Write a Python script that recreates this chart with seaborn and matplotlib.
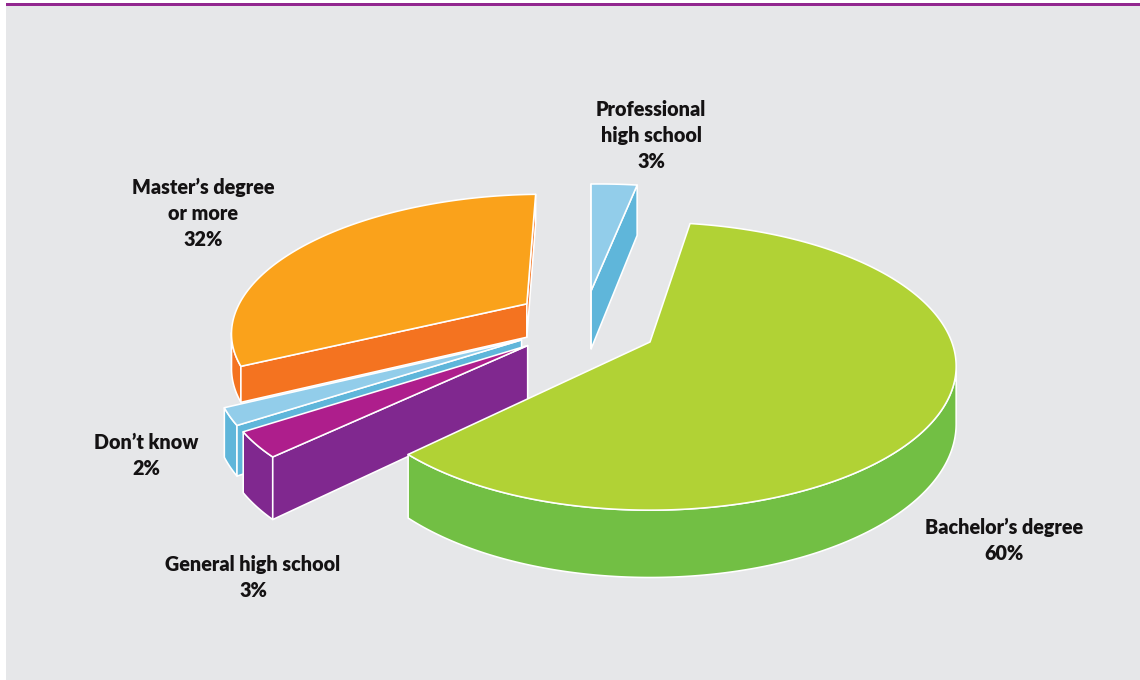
import numpy as np
import matplotlib
matplotlib.use("Agg")
import matplotlib.pyplot as plt
from matplotlib.patches import Polygon, Rectangle
from matplotlib.path import Path
import seaborn as sns

# Survey shares, clockwise from the top of the pie
categories = ["Bachelor\u2019s degree", "General high school", "Don\u2019t know",
              "Master\u2019s degree\nor more", "Professional\nhigh school"]
shares = [60, 3, 2, 32, 3]

# Slice styling and placement
top_colors = ["#B1D235", "#AE1E8C", "#92CDEA", "#FAA21B", "#92CDEA"]
side_colors = ["#72BF44", "#80288F", "#5FB6DA", "#F47320", "#5FB6DA"]
offsets = [(0.0, 0.0), (-0.402, 0.025), (-0.425, -0.015), (-0.426, -0.285), (-0.207, -0.39)]
radii = [0.996, 0.98, 0.985, 0.995, 1.0]
depths = [56, 55, 46, 35, 62]
draw_order = [3, 4, 2, 1, 0]
label_xy = [(1004, 527), (253, 564), (146, 442), (203, 187), (651, 109)]

START_ANGLE = 8.9
CX, CY = 650, 342
SCALE_X, SCALE_Y, PERSP = 303.0, 140.4, 0.169
EDGE = "white"
INK = "#141213"

sns.set_theme(style="white")
plt.rcParams["font.family"] = ["Lato", "DejaVu Sans"]


def project(x, y, drop=0.0):
    """Perspective map from the pie plane to canvas pixels; y grows toward the viewer."""
    w = 1.0 / (1.0 - PERSP * y)
    return CX + SCALE_X * x * w, CY + (SCALE_Y * y + drop) * w


def rim_points(a0, a1, r, off):
    angles = np.radians(np.linspace(a0, a1, max(int(abs(a1 - a0) * 2), 2) + 1))
    return off[0] + r * np.sin(angles), off[1] - r * np.cos(angles)


fig = plt.figure(figsize=(11.4, 6.8), dpi=100)
ax = fig.add_axes([0, 0, 1, 1])
ax.set_xlim(0, 1140)
ax.set_ylim(680, 0)
ax.axis("off")
sns.despine(ax=ax, left=True, bottom=True)

ax.add_patch(Rectangle((6, 3), 1134, 677, facecolor="#E6E7E9", edgecolor="none", zorder=0))
ax.add_patch(Rectangle((6, 3), 1134, 3, facecolor="#92278F", edgecolor="none", zorder=1))

edges = START_ANGLE + 3.6 * np.concatenate([[0], np.cumsum(shares)])


def add_face(points, color, z):
    ax.add_patch(Polygon(points, closed=True, facecolor=color, edgecolor=EDGE,
                         linewidth=1.15, joinstyle="round", zorder=z))


z = 2.0
for i in draw_order:
    off, r, depth = offsets[i], radii[i], depths[i]
    xs, ys = rim_points(edges[i], edges[i + 1], r, off)
    top = [project(off[0], off[1])] + list(zip(*project(xs, ys)))
    outline = Path(top + [top[0]])

    # Outer wall: keep only the run of arc whose lower edge falls outside the top face
    sx, sy = project(xs, ys)
    bx, by = project(xs, ys, depth)
    mid_x, mid_y = (sx[:-1] + sx[1:]) / 2, (sy[:-1] + sy[1:]) / 2 + 2.5
    seen = np.array([not outline.contains_point((a, b)) for a, b in zip(mid_x, mid_y)])
    if seen.any():
        idx = np.nonzero(seen)[0]
        lo, hi = idx[0], idx[-1] + 2
        wall = list(zip(sx[lo:hi], sy[lo:hi])) + list(zip(bx[lo:hi], by[lo:hi]))[::-1]
        add_face(wall, side_colors[i], z)
        z += 0.01

    # Cut faces that turn toward the viewer
    apex_t = project(off[0], off[1])
    apex_b = project(off[0], off[1], depth)
    for k in (0, -1):
        rim_t = (sx[k], sy[k])
        rim_b = (bx[k], by[k])
        probe = ((apex_t[0] + rim_t[0]) / 2, (apex_t[1] + rim_t[1]) / 2 + 2.5)
        if not outline.contains_point(probe):
            add_face([apex_t, rim_t, rim_b, apex_b], side_colors[i], z)
            z += 0.01

    add_face(top, top_colors[i], z)
    z += 0.01

for name, share, (lx, ly) in zip(categories, shares, label_xy):
    ax.text(lx, ly - 9, f"{name}\n{share}%", ha="center", va="top",
            fontsize=14.2, fontweight="heavy", color=INK, linespacing=1.43, zorder=10)

fig.savefig("out.png", dpi=100, facecolor="white")
